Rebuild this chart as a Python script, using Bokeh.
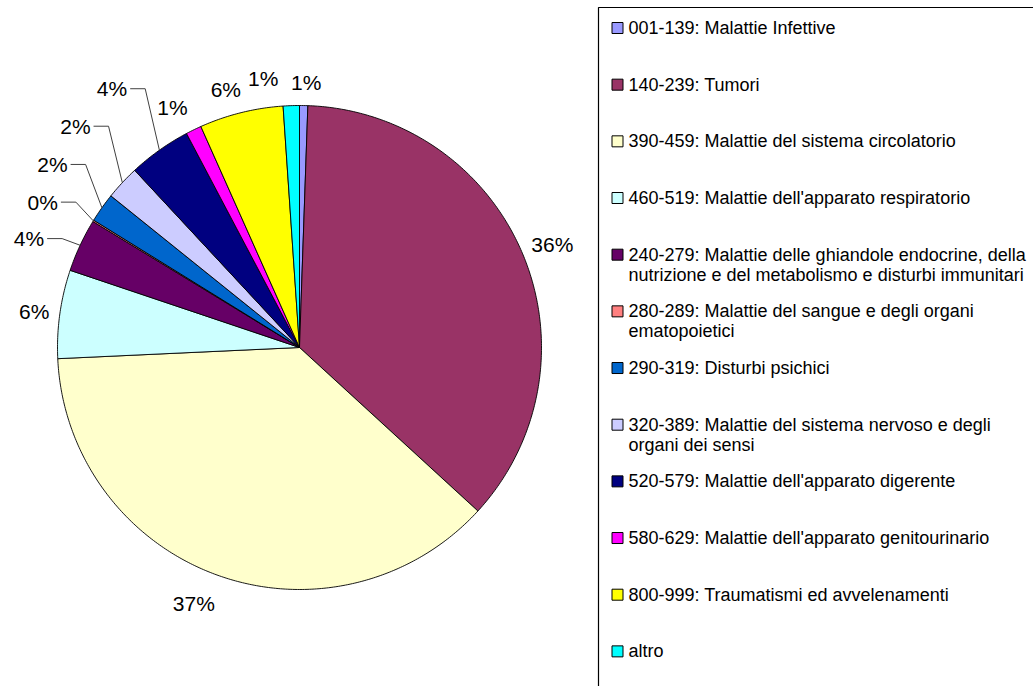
import numpy as np
from bokeh.plotting import figure
from bokeh.models import Range1d
from bokeh.core.properties import value
from bokeh.embed import file_html
from bokeh.resources import INLINE

# ---------------- data ----------------
categories = [
    "001-139: Malattie Infettive",
    "140-239: Tumori",
    "390-459: Malattie del sistema circolatorio",
    "460-519: Malattie dell'apparato respiratorio",
    "240-279: Malattie delle ghiandole endocrine, della\nnutrizione e del metabolismo e disturbi immunitari",
    "280-289: Malattie del sangue e degli organi\nematopoietici",
    "290-319: Disturbi psichici",
    "320-389: Malattie del sistema nervoso e degli\norgani dei sensi",
    "520-579: Malattie dell'apparato digerente",
    "580-629: Malattie dell'apparato genitourinario",
    "800-999: Traumatismi ed avvelenamenti",
    "altro",
]
shares = [0.55, 36.25, 37.45, 5.9, 3.55, 0.1, 1.96, 2.3, 4.19, 1.05, 5.6, 1.08]
colors = ["#9999FF", "#993366", "#FFFFCC", "#CCFFFF", "#660066", "#FF8080",
          "#0066CC", "#CCCCFF", "#000080", "#FF00FF", "#FFFF00", "#00FFFF"]

# ---------------- layout ----------------
W, H = 1033, 686
CX, CY, R = 299.0, 347.0, 242.0
LABEL_PAD = 30.0
LABEL_FS = 21
LEG_FS = 18.0
# manual displacement of data labels (pixels, screen orientation)
label_shift = {0: (2, 7), 1: (2, 2), 2: (-13, 0), 3: (4, 2), 4: (-24, 6),
               5: (-25, -3), 6: (-25, -26), 7: (-25, -36), 8: (-30, -37),
               9: (-8, 5), 10: (-8, 6), 11: (-27, 3)}
leader_idx = [4, 5, 6, 7, 8]

p = figure(width=W, height=H, x_range=Range1d(0, W), y_range=Range1d(H, 0),
           output_backend="svg", toolbar_location=None, min_border=0,
           x_axis_type=None, y_axis_type=None)
p.grid.visible = False
p.outline_line_color = None
p.background_fill_color = "white"
p.border_fill_color = "white"

vals = np.array(shares, dtype=float)
frac = vals / vals.sum()
cum = np.concatenate([[0.0], np.cumsum(frac)])

xs, ys = [], []
for i in range(len(frac)):
    a0, a1 = cum[i] * 2 * np.pi, cum[i + 1] * 2 * np.pi
    n = max(3, int(np.ceil((a1 - a0) / 0.01)) + 1)
    th = np.linspace(a0, a1, n)
    xs.append([CX] + list(CX + R * np.sin(th)) + [CX])
    ys.append([CY] + list(CY - R * np.cos(th)) + [CY])
p.patches(xs, ys, fill_color=colors, line_color="#000000", line_width=0.9)

# data labels
lab_x, lab_y, lab_t = [], [], []
lead_xs, lead_ys = [], []
for i in range(len(frac)):
    mid = (cum[i] + cum[i + 1]) * np.pi
    dx, dy = label_shift.get(i, (0, 0))
    lx = CX + (R + LABEL_PAD) * np.sin(mid) + dx
    ly = CY - (R + LABEL_PAD) * np.cos(mid) + dy
    pct = int(frac[i] * 100 + 0.5)
    txt = f"{pct}%"
    lab_x.append(lx); lab_y.append(ly); lab_t.append(txt)
    if i in leader_idx:
        em = 0.556 * (len(txt) - 1) + 0.889
        sx = lx + em * LABEL_FS / 2 + 3
        ex = CX + R * np.sin(mid)
        ey = CY - R * np.cos(mid)
        lead_xs.append([sx, sx + 15, ex])
        lead_ys.append([ly, ly, ey])
p.multi_line(lead_xs, lead_ys, line_color="#404040", line_width=1)
p.text(x=lab_x, y=lab_y, text=lab_t, text_font=value("Liberation Sans"),
       text_font_size=f"{LABEL_FS}px", text_align="center", text_baseline="middle",
       text_color="black")

# legend box
p.quad(left=[598], right=[1200], top=[7], bottom=[900], fill_color=None,
       line_color="#000000", line_width=1.2)
ROW0, ROWSTEP, LINESTEP = 27.5, 56.67, 20.0
mk_y, tx_x, tx_y, tx_t = [], [], [], []
for k, name in enumerate(categories):
    y0 = ROW0 + ROWSTEP * k
    mk_y.append(y0)
    for j, line in enumerate(name.split("\n")):
        tx_x.append(628); tx_y.append(y0 + LINESTEP * j); tx_t.append(line)
p.rect(x=[617] * len(mk_y), y=mk_y, width=11, height=11, fill_color=colors,
       line_color="#000000", line_width=1)
p.text(x=tx_x, y=tx_y, text=tx_t, text_font=value("Liberation Sans"),
       text_font_size=f"{LEG_FS}px", text_align="left", text_baseline="middle",
       text_color="black")

open("out.html", "w").write(file_html(p, INLINE))
